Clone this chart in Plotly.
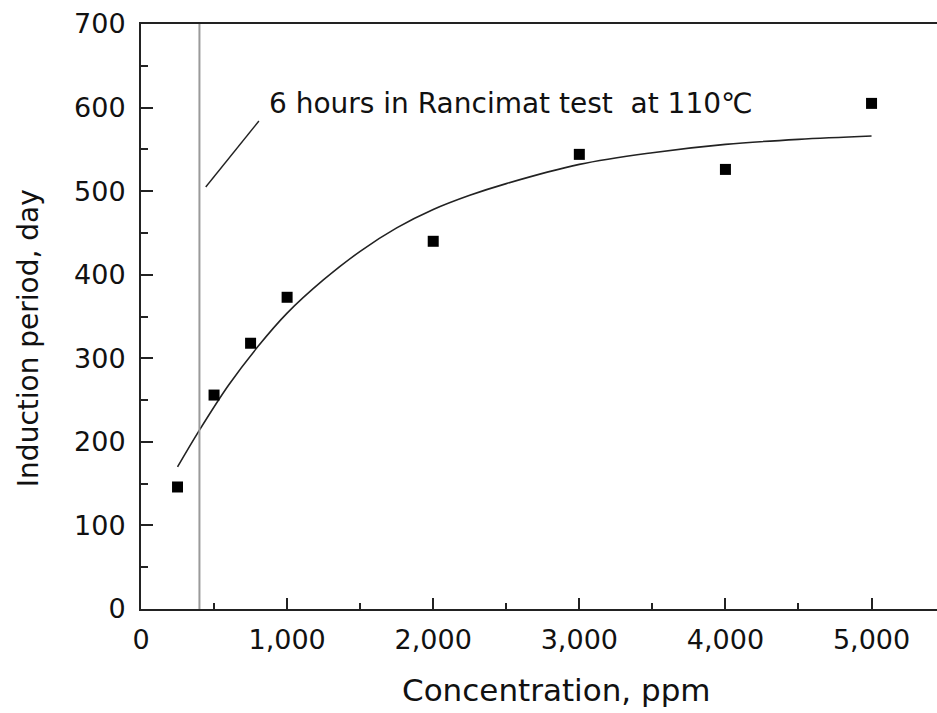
import plotly.graph_objects as go

# Measured data (concentration in ppm, induction period in days)
conc_ppm = [250, 500, 750, 1000, 2000, 3000, 4000, 5000]
induction_day = [146, 256, 318, 373, 440, 544, 526, 605]

# Fitted curve, values
fit_ppm = [250, 400, 600, 800, 1000, 1250, 1500, 1750, 2000, 2250, 2500, 3000, 3500, 4000, 4500, 5000]
fit_day = [170, 214, 268, 314, 354, 394, 428, 456, 478, 495, 509, 532, 546, 556, 562, 566]

# Rancimat reference line and annotation
rancimat_ppm = 400
leader_x = [443, 807]
leader_y = [505, 584]
note_text = "6 hours in Rancimat test\u00a0 at 110\u2103"
note_x = 860
note_y = 605

x_ticks = [0, 1000, 2000, 3000, 4000, 5000]
x_labels = ["0", "1,000", "2,000", "3,000", "4,000", "5,000"]
y_ticks = [0, 100, 200, 300, 400, 500, 600, 700]
x_title = "Concentration, ppm"
y_title = "Induction period, day"

FONT = "DejaVu Sans"
INK = "#111111"

fig = go.Figure()

fig.add_trace(go.Scatter(
    x=fit_ppm, y=fit_day, mode="lines",
    line=dict(color="#222222", width=1.6, shape="spline"),
    showlegend=False, hoverinfo="skip"))

fig.add_trace(go.Scatter(
    x=conc_ppm, y=induction_day, mode="markers",
    marker=dict(symbol="square", size=11, color="black"),
    showlegend=False))

fig.add_trace(go.Scatter(
    x=leader_x, y=leader_y, mode="lines",
    line=dict(color="#222222", width=1.4),
    showlegend=False, hoverinfo="skip"))

fig.add_shape(type="line", xref="x", yref="paper",
              x0=rancimat_ppm, x1=rancimat_ppm, y0=0, y1=1,
              line=dict(color="#9a9a9a", width=2))

fig.add_annotation(x=note_x, y=note_y, xref="x", yref="y",
                   text=note_text, showarrow=False,
                   xanchor="left", yanchor="middle",
                   font=dict(family=FONT, size=28, color=INK))

# Axis titles placed as annotations to match the reference positions
fig.add_annotation(x=0, y=0.463, xref="paper", yref="paper",
                   xshift=-113, text=y_title, textangle=-90, showarrow=False,
                   xanchor="center", yanchor="middle",
                   font=dict(family=FONT, size=28, color=INK))
fig.add_annotation(x=2847, y=0, xref="x", yref="paper",
                   yshift=-81, text=x_title, showarrow=False,
                   xanchor="center", yanchor="middle",
                   font=dict(family=FONT, size=31, color=INK))

fig.update_layout(
    width=937, height=713,
    margin=dict(l=141, r=0, t=24, b=104, pad=0),
    plot_bgcolor="white", paper_bgcolor="white",
    font=dict(family=FONT, size=26, color=INK),
)

fig.update_xaxes(
    automargin=False,
    range=[0, 5448], tickvals=x_ticks, ticktext=x_labels,
    showline=True, linecolor="#222222", linewidth=2, mirror=True,
    ticks="inside", ticklen=11, tickwidth=2, tickcolor="#222222",
    minor=dict(dtick=500, tick0=0, ticks="inside", ticklen=6, tickwidth=2, tickcolor="#222222"),
    showgrid=False, zeroline=False,
    ticklabelstandoff=6,
    tickfont=dict(family=FONT, size=27, color=INK),
)

fig.update_yaxes(
    automargin=False,
    range=[0, 700], tickvals=y_ticks,
    showline=True, linecolor="#222222", linewidth=2, mirror=False,
    ticks="inside", ticklen=12, tickwidth=2, tickcolor="#222222",
    minor=dict(dtick=50, tick0=0, ticks="inside", ticklen=7, tickwidth=2, tickcolor="#222222"),
    showgrid=False, zeroline=False,
    ticklabelstandoff=8,
    tickfont=dict(family=FONT, size=27, color=INK),
)

fig.write_html(
    "out.html",
    config={"displayModeBar": False},
    post_script="document.body.style.margin='0';document.body.style.overflow='hidden';",
)
